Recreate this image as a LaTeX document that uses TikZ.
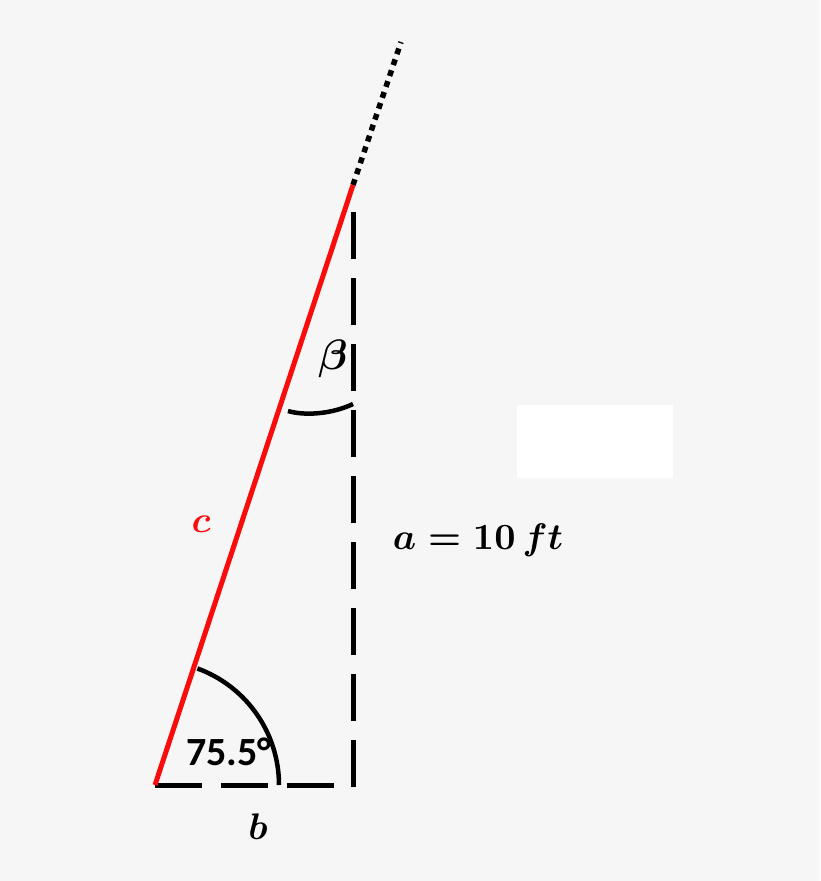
\documentclass[tikz,border=0pt]{standalone}
\usepackage{fontspec}
\newfontfamily\carlito{Carlito}
\definecolor{bg}{RGB}{246,246,246}
\definecolor{redline}{RGB}{248,12,12}
\newcommand{\mylbl}[1]{\scalebox{3.7}{\boldmath$#1$}}
\begin{document}
\begin{tikzpicture}[x=1pt,y=-1pt,
  side/.style={line width=5pt},
  dashside/.style={line width=5pt, dash pattern=on 47pt off 19pt},
  dotside/.style={line width=5.5pt, dash pattern=on 6pt off 5.5pt},
  anglearc/.style={line width=4.5pt},
  mlabel/.style={inner sep=0pt}]
\fill[bg] (0,0) rectangle (820,881);
\useasboundingbox (0,0) rectangle (820,881);
\fill[white] (517,405) rectangle (673,478);
\coordinate (A) at (155,785);
\coordinate (T) at (353,185);
\coordinate (C) at (353,785);
\coordinate (V) at (353,212);
\coordinate (E) at (401,42);
\coordinate (B1) at (288,411);
\coordinate (B2) at (353,404);
\draw[dotside] (T) -- (E);
\draw[dashside] (A) -- (C);
\draw[dashside] (V) -- (353,787);
\draw[side, redline] (A) -- (T);
\draw[anglearc] (A) ++(0:124) arc[start angle=0, end angle=-70, radius=124];
\draw[anglearc] (B1) .. controls (305,416) and (332,414) .. (B2);
\node[mlabel] (beta) at (333,359) {\scalebox{1.15}{\mylbl{\beta}}};
\node[mlabel, text=redline] (c) at (201,524) {\mylbl{c}};
\node[mlabel] (a) at (478,540) {\mylbl{a=10\,ft}};
\node[mlabel] (b) at (258,827) {\mylbl{b}};
\node[inner sep=0pt, font=\carlito\bfseries\fontsize{40}{46}\selectfont] (ang) at (229,752) {75.5\textdegree};
\end{tikzpicture}
\end{document}
